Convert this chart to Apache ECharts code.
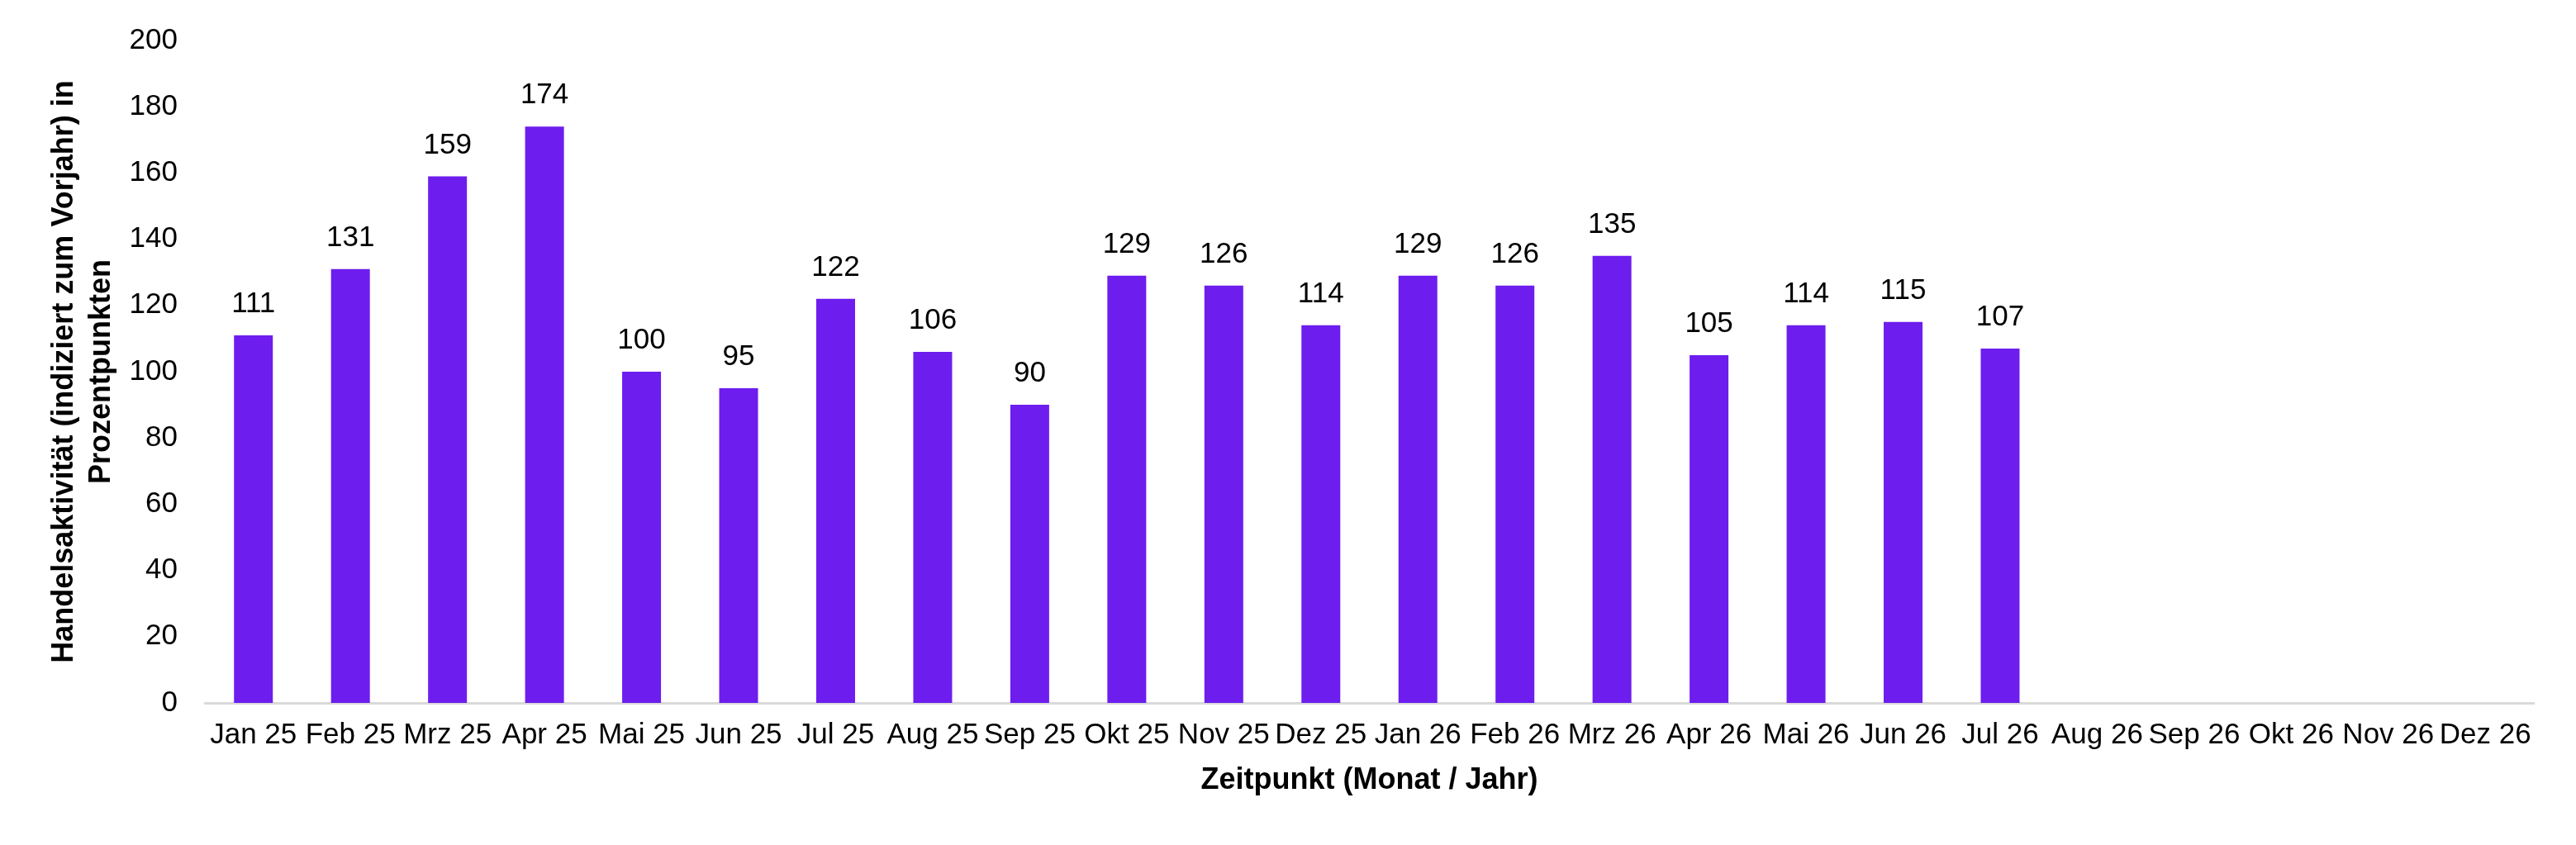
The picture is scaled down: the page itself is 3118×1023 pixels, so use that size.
<!DOCTYPE html>
<html>
<head>
<meta charset="utf-8">
<script src="https://cdn.jsdelivr.net/npm/echarts@6/dist/echarts.min.js"></script>
<style>
html,body{margin:0;padding:0;background:#fff;}
#chart{width:3118px;height:1023px;}
</style>
</head>
<body>
<div id="chart"></div>
<script>
var categories = ['Jan 25','Feb 25','Mrz 25','Apr 25','Mai 25','Jun 25','Jul 25','Aug 25','Sep 25','Okt 25','Nov 25','Dez 25',
  'Jan 26','Feb 26','Mrz 26','Apr 26','Mai 26','Jun 26','Jul 26','Aug 26','Sep 26','Okt 26','Nov 26','Dez 26'];
var values = [111,131,159,174,100,95,122,106,90,129,126,114,129,126,135,105,114,115,107,null,null,null,null,null];
var yTicks = {min: 0, max: 200, interval: 20};
var xTitle = 'Zeitpunkt (Monat / Jahr)';
var yTitle = 'Handelsaktivität (indiziert zum Vorjahr) in\nProzentpunkten';

var font = '"Liberation Sans", Arial, sans-serif';
var chart = echarts.init(document.getElementById('chart'), null, {renderer: 'canvas'});
chart.setOption({
  backgroundColor: '#ffffff',
  animation: false,
  grid: {left: 248, right: 51, top: 49, bottom: 172, containLabel: false},
  xAxis: {
    type: 'category',
    data: categories,
    name: xTitle,
    nameLocation: 'middle',
    nameGap: 76,
    nameTextStyle: {fontFamily: font, fontSize: 36, fontWeight: 'bold', color: '#000'},
    axisLine: {show: true, lineStyle: {color: '#d9d9d9', width: 3}},
    axisTick: {show: false},
    axisLabel: {fontFamily: font, fontSize: 35, color: '#000', margin: 22, interval: 0}
  },
  yAxis: {
    type: 'value',
    min: yTicks.min, max: yTicks.max, interval: yTicks.interval,
    name: yTitle,
    nameLocation: 'middle',
    nameGap: 101,
    nameTextStyle: {fontFamily: font, fontSize: 36, fontWeight: 'bold', color: '#000', lineHeight: 45},
    axisLine: {show: false},
    axisTick: {show: false},
    splitLine: {show: false},
    axisLabel: {fontFamily: font, fontSize: 35, color: '#000', margin: 33}
  },
  series: [{
    type: 'bar',
    data: values,
    barWidth: 47,
    itemStyle: {color: '#6d1dee'},
    label: {show: true, position: 'top', distance: 20, fontFamily: font, fontSize: 35, color: '#000'}
  }]
});
</script>
</body>
</html>
